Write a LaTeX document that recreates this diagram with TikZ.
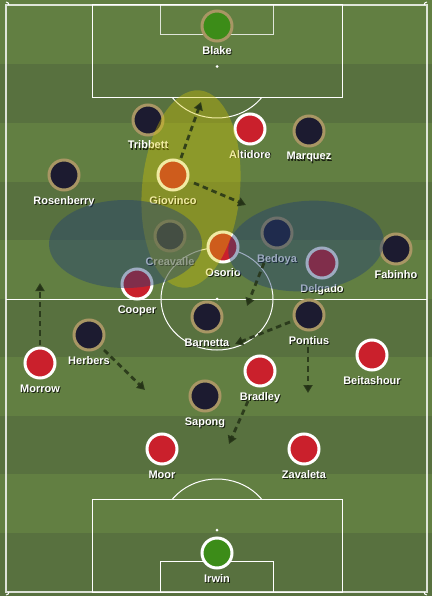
\documentclass[tikz,border=0pt]{standalone}
\usepackage{fontspec}
\setmainfont{Liberation Sans}
\usetikzlibrary{arrows.meta}
\definecolor{grassL}{RGB}{98,127,66}
\definecolor{grassD}{RGB}{88,113,63}
\definecolor{navyp}{RGB}{28,27,48}
\definecolor{tanb}{RGB}{168,150,100}
\definecolor{redp}{RGB}{202,32,44}
\definecolor{keeperg}{RGB}{60,140,24}
\definecolor{yellov}{RGB}{215,200,0}
\definecolor{blueov}{RGB}{35,65,115}
\definecolor{runc}{RGB}{36,50,22}
\tikzset{
  pitchline/.style={draw=white, line width=1pt},
  plbase/.style={circle, minimum size=30pt, inner sep=0pt, line width=3pt},
  hteam/.style={plbase, fill=navyp, draw=tanb},
  ateam/.style={plbase, fill=redp, draw=white},
  hkeeper/.style={plbase, fill=keeperg, draw=tanb},
  akeeper/.style={plbase, fill=keeperg, draw=white},
  lbl/.style={font=\bfseries\fontsize{11}{13}\selectfont, text=white, inner sep=0pt, anchor=base},
  lblsh/.style={lbl, text=black, opacity=0.75},
  runarrow/.style={draw=runc, draw opacity=0.85, line width=2.8pt, dash pattern=on 5.5pt off 4pt,
     -{Triangle[length=8pt,width=9pt,fill=runc]}},
  zone/.style={opacity=0.36, fill=yellov},
  bluezone/.style={opacity=0.44, fill=blueov}
}
\begin{document}
\begin{tikzpicture}[x=1pt,y=-1pt]
\useasboundingbox (0,0) rectangle (432,596);
% grass stripes
\fill[grassL] (0,0) rectangle (432,596);
\foreach \a/\b in {64/123,182/240,299/357,416/474,533/596}
  \fill[grassD] (0,\a) rectangle (432,\b);
% pitch markings
\draw[pitchline, draw opacity=0.8, line width=1.4pt] (6,5) rectangle (427,592);
\draw[pitchline] (6,299) -- (427,299);
\draw[pitchline] (217,299) ellipse [x radius=56, y radius=51];
\fill[white] (217,299) circle (1.5);
\draw[pitchline] (92,5) rectangle (342,98);
\draw[pitchline, draw opacity=0.8] (160,5) rectangle (273,35);
\fill[white] (217,66.5) circle (1.5);
\begin{scope}
  \clip (0,98) rectangle (432,200);
  \draw[pitchline] (217,66.5) ellipse [x radius=56, y radius=51.5];
\end{scope}
\draw[pitchline] (92,499) rectangle (342,592);
\draw[pitchline] (160,561) rectangle (273,592);
\fill[white] (217,530) circle (1.5);
\begin{scope}
  \clip (0,400) rectangle (432,499);
  \draw[pitchline] (217,530) ellipse [x radius=56, y radius=51];
\end{scope}
\draw[pitchline] (9,5) arc [start angle=0, end angle=-90, radius=3];
\draw[pitchline] (424,5) arc [start angle=180, end angle=270, radius=3];
\draw[pitchline] (9,592) arc [start angle=0, end angle=90, radius=3];
\draw[pitchline] (424,592) arc [start angle=180, end angle=90, radius=3];
% players
\foreach \id/\st/\x/\y in {
  blake/hkeeper/217/26, tribbett/hteam/148/120, altidore/ateam/250/129,
  marquez/hteam/309/131, rosenberry/hteam/64/175, giovinco/ateam/173/175,
  creavalle/hteam/170/236, osorio/ateam/223/247, bedoya/hteam/277/233,
  delgado/ateam/322/263, fabinho/hteam/396/249, cooper/ateam/137/284,
  barnetta/hteam/207/317, pontius/hteam/309/315, herbers/hteam/89/335,
  morrow/ateam/40/363, bradley/ateam/260/371, beitashour/ateam/372/355,
  sapong/hteam/205/396, moor/ateam/162/449, zavaleta/ateam/304/449,
  irwin/akeeper/217/553}
  \node[\st] (\id) at (\x,\y) {};
% labels
\foreach \id/\t in {
  blake/Blake, tribbett/Tribbett, altidore/Altidore, marquez/Marquez,
  rosenberry/Rosenberry, giovinco/Giovinco, creavalle/Creavalle, osorio/Osorio,
  bedoya/Bedoya, delgado/Delgado, fabinho/Fabinho, cooper/Cooper,
  barnetta/Barnetta, pontius/Pontius, herbers/Herbers, morrow/Morrow,
  bradley/Bradley, beitashour/Beitashour, sapong/Sapong, moor/Moor,
  zavaleta/Zavaleta, irwin/Irwin}
{
  \node[lblsh] (\id-sh) at ([xshift=1pt,yshift=-30pt]\id.center) {\t};
  \node[lbl] (\id-l) at ([yshift=-29pt]\id.center) {\t};
}
% zones
\fill[zone, rotate around={-5:(191,189)}] (191,189) ellipse [x radius=49, y radius=99];
\fill[bluezone] (125.5,244) ellipse [x radius=76.5, y radius=44];
\fill[bluezone, rotate around={5:(306,246)}] (306,246) ellipse [x radius=78, y radius=45];
% runs
\coordinate (r1s) at (181,158); \coordinate (r1e) at (201,102);
\coordinate (r2s) at (194,183); \coordinate (r2e) at (246,205);
\coordinate (r3s) at (264,263); \coordinate (r3e) at (247,306);
\coordinate (r4s) at (40,345);  \coordinate (r4e) at (40,283);
\coordinate (r5s) at (104,350); \coordinate (r5e) at (145,390);
\coordinate (r6s) at (290,322); \coordinate (r6e) at (235,344);
\coordinate (r7s) at (308,347); \coordinate (r7e) at (308,393);
\coordinate (r8s) at (248,401); \coordinate (r8e) at (229,444);
\foreach \i in {1,...,8}
  \draw[runarrow] (r\i s) -- (r\i e);
\end{tikzpicture}
\end{document}
